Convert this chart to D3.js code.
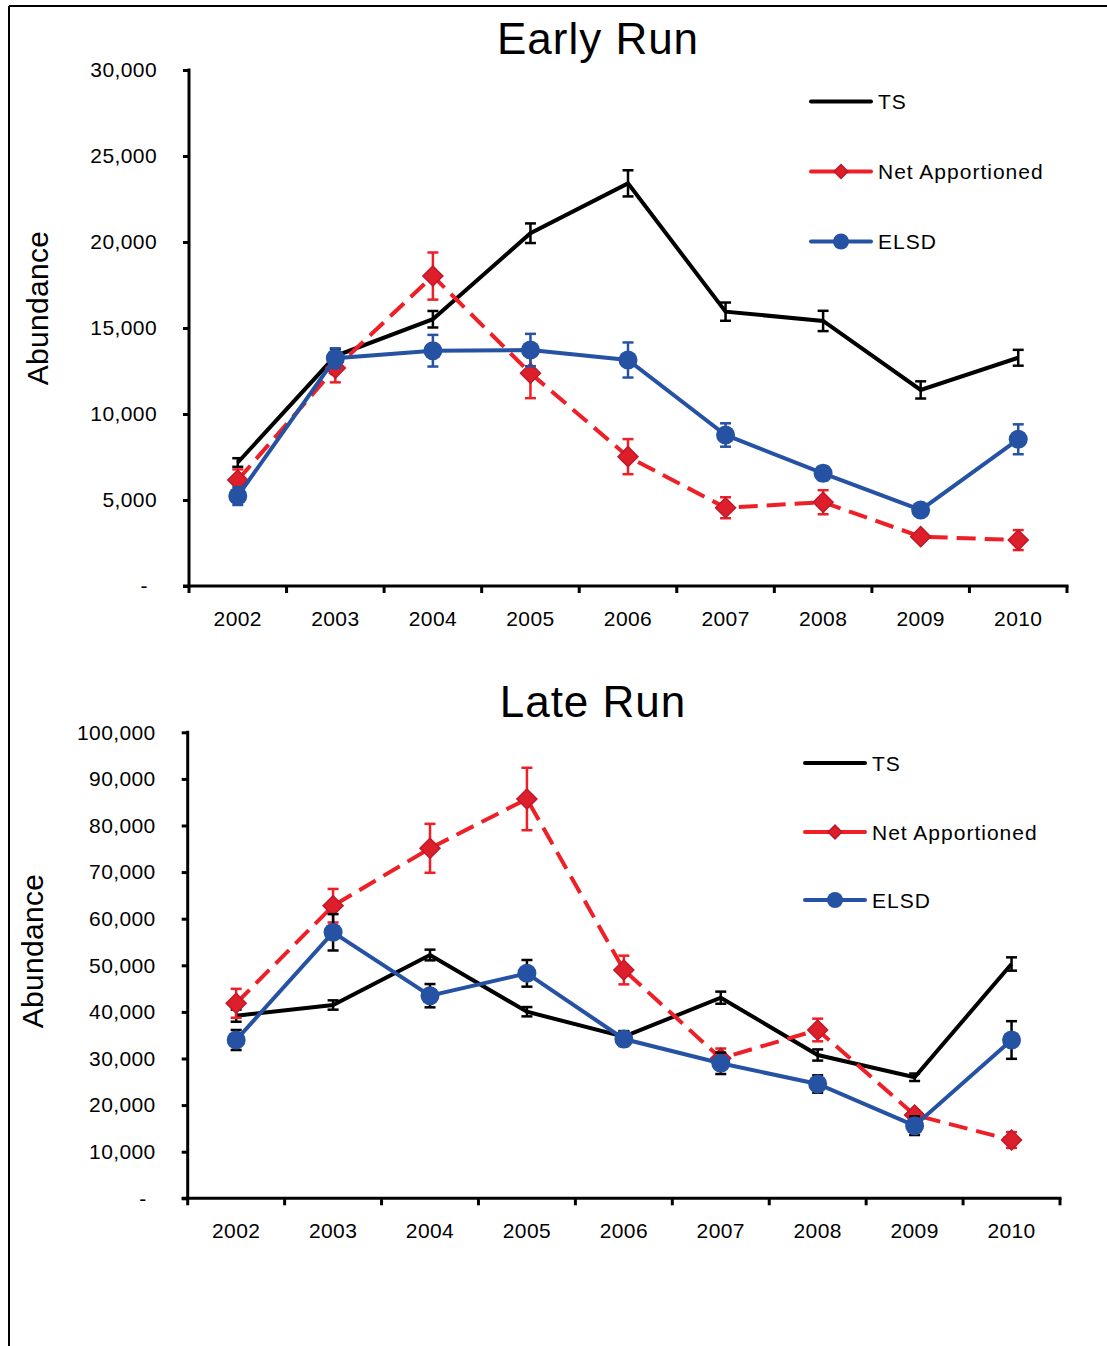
<!DOCTYPE html>
<html>
<head>
<meta charset="utf-8">
<script src="https://cdn.jsdelivr.net/npm/d3@7"></script>
<style>
  html, body { margin: 0; padding: 0; background: #fff; }
  svg { display: block; font-family: "Liberation Sans", Arial, sans-serif; }
</style>
</head>
<body>
<svg id="chart" width="1107" height="1346"></svg>
<script>
// Run years
const years = ["2002", "2003", "2004", "2005", "2006", "2007", "2008", "2009", "2010"];

// Early run abundance estimates and error (+/-)
const earlyTS       = [7180, 13370, 15510, 20510, 23410, 15950, 15410, 11400, 13270];
const earlyTSErr    = [250, 400, 480, 570, 760, 530, 590, 500, 460];
const earlyNet      = [6160, 12670, 18020, 12370, 7520, 4550, 4870, 2870, 2670];
const earlyNetErr   = [620, 830, 1370, 1450, 1020, 610, 700, 200, 580];
const earlyELSD     = [5230, 13240, 13680, 13720, 13140, 8780, 6550, 4420, 8530];
const earlyELSDErr  = [520, 580, 920, 940, 1020, 680, 400, 250, 870];
const earlyTicks    = [0, 5000, 10000, 15000, 20000, 25000, 30000];

// Late run abundance estimates and error (+/-)
const lateTS        = [39190, 41480, 52210, 40040, 34680, 43050, 30750, 25970, 50280];
const lateTSErr     = [1300, 1000, 1150, 1000, 1200, 1300, 1200, 800, 1430];
const lateNet       = [41850, 62790, 75110, 85690, 48990, 30040, 36120, 17880, 12510];
const lateNetErr    = [3100, 3600, 5250, 6700, 3080, 2100, 2430, 1000, 1700];
const lateELSD      = [33970, 57080, 43480, 48280, 34180, 28970, 24530, 15580, 33970];
const lateELSDErr   = [2150, 3900, 2500, 2860, 1500, 2300, 1860, 2000, 4040];
const lateTicks     = [0, 10000, 20000, 30000, 40000, 50000, 60000, 70000, 80000, 90000, 100000];

const seriesNames = ["TS", "Net Apportioned", "ELSD"];

const BLACK = "#000000";
const RED = "#ee1f26";
const RED_MARK = "#dd1f2b";
const RED_EDGE = "#c0182a";
const BLUE = "#2652a4";

const svg = d3.select("#chart");

// outer frame (left and top edges)
svg.append("line").attr("x1", 9).attr("x2", 9).attr("y1", 6).attr("y2", 1346)
  .attr("stroke", "#000").attr("stroke-width", 2);
svg.append("line").attr("x1", 9).attr("x2", 1107).attr("y1", 6).attr("y2", 6)
  .attr("stroke", "#000").attr("stroke-width", 2);

const fmt = d3.format(",");

function drawPanel(p) {
  const g = svg.append("g");
  const x = d3.scaleBand().domain(years).range([p.left, p.right]);
  const y = d3.scaleLinear().domain([0, p.ticks[p.ticks.length - 1]]).range([p.bottom, p.top]);
  const cx = d => x(d) + x.bandwidth() / 2;

  // title
  g.append("text").attr("x", p.titleX).attr("y", p.titleY)
    .attr("text-anchor", "middle").attr("font-size", 44).attr("letter-spacing", 1)
    .attr("fill", "#000").text(p.title);

  // y axis title
  g.append("text")
    .attr("transform", `translate(${p.yTitleX},${p.yTitleY}) rotate(-90)`)
    .attr("text-anchor", "middle").attr("font-size", 30).attr("letter-spacing", 0.3)
    .attr("fill", "#000").text("Abundance");

  // y axis
  const yAxis = d3.axisLeft(y).tickValues(p.ticks).tickSize(6).tickPadding(26)
    .tickFormat(d => d === 0 ? "-" : fmt(d));
  const ya = g.append("g").attr("transform", `translate(${p.left},0)`).call(yAxis);
  ya.select(".domain").remove();
  ya.selectAll(".tick line").attr("stroke", "#000").attr("stroke-width", 3);
  ya.selectAll(".tick text").attr("font-size", 21).attr("fill", "#000")
    .attr("font-family", "Liberation Sans, Arial, sans-serif")
    .attr("letter-spacing", 0.4)
    .attr("dx", d => d === 0 ? -9 : 0);
  g.append("line").attr("x1", p.left).attr("x2", p.left)
    .attr("y1", p.top - 1.5).attr("y2", p.bottom + 1.5)
    .attr("stroke", "#000").attr("stroke-width", 3);

  // x axis
  const xAxis = d3.axisBottom(x).tickSize(0).tickPadding(25);
  const xa = g.append("g").attr("transform", `translate(0,${p.bottom})`).call(xAxis);
  xa.select(".domain").remove();
  xa.selectAll(".tick text").attr("font-size", 21).attr("fill", "#000")
    .attr("font-family", "Liberation Sans, Arial, sans-serif")
    .attr("letter-spacing", 0.4);
  g.append("line").attr("x1", p.left - 6).attr("x2", p.right + 1.5)
    .attr("y1", p.bottom).attr("y2", p.bottom)
    .attr("stroke", "#000").attr("stroke-width", 3);
  const bounds = years.map(d => x(d)).concat([p.right]);
  g.selectAll(".xb").data(bounds).enter().append("line")
    .attr("x1", d => d).attr("x2", d => d)
    .attr("y1", p.bottom).attr("y2", p.bottom + 7)
    .attr("stroke", "#000").attr("stroke-width", 3);

  const line = d3.line().x((d, i) => cx(years[i])).y(d => y(d));

  function errorBars(vals, errs, color) {
    const eg = g.append("g").attr("stroke", color).attr("stroke-width", 2.5).attr("fill", "none");
    vals.forEach((v, i) => {
      const xx = cx(years[i]);
      const y1 = y(v - errs[i]), y2 = y(v + errs[i]);
      eg.append("line").attr("x1", xx).attr("x2", xx).attr("y1", y1).attr("y2", y2);
      eg.append("line").attr("x1", xx - 5.5).attr("x2", xx + 5.5).attr("y1", y1).attr("y2", y1);
      eg.append("line").attr("x1", xx - 5.5).attr("x2", xx + 5.5).attr("y1", y2).attr("y2", y2);
    });
  }

  // TS
  g.append("path").datum(p.ts).attr("d", line).attr("fill", "none")
    .attr("stroke", BLACK).attr("stroke-width", 4).attr("stroke-linejoin", "miter");
  errorBars(p.ts, p.tsErr, BLACK);

  // Net Apportioned
  g.append("path").datum(p.net).attr("d", line).attr("fill", "none")
    .attr("stroke", RED).attr("stroke-width", 4).attr("stroke-dasharray", "19,9");
  errorBars(p.net, p.netErr, RED);
  const diamond = d3.symbol().type(d3.symbolSquare).size(200);
  g.selectAll(".dia").data(p.net).enter().append("path")
    .attr("d", diamond)
    .attr("transform", (d, i) => `translate(${cx(years[i])},${y(d)}) rotate(45)`)
    .attr("fill", RED_MARK).attr("stroke", RED_EDGE).attr("stroke-width", 1.5);

  // ELSD
  g.append("path").datum(p.elsd).attr("d", line).attr("fill", "none")
    .attr("stroke", BLUE).attr("stroke-width", 4);
  errorBars(p.elsd, p.elsdErr, p.elsdErrColor);
  g.selectAll(".dot").data(p.elsd).enter().append("circle")
    .attr("cx", (d, i) => cx(years[i])).attr("cy", d => y(d)).attr("r", 9.5)
    .attr("fill", BLUE);

  // legend
  const lg = g.append("g");
  const lx = p.legendX, len = 60;
  const colors = [BLACK, RED, BLUE];
  seriesNames.forEach((name, i) => {
    const ly = p.legendY[i];
    lg.append("line").attr("x1", lx).attr("x2", lx + len).attr("y1", ly).attr("y2", ly)
      .attr("stroke", colors[i]).attr("stroke-width", 4).attr("stroke-linecap", "round");
    if (i === 1) {
      lg.append("path").attr("d", d3.symbol().type(d3.symbolSquare).size(95))
        .attr("transform", `translate(${lx + len / 2},${ly}) rotate(45)`)
        .attr("fill", RED_MARK).attr("stroke", RED_EDGE).attr("stroke-width", 1.5);
    }
    if (i === 2) {
      lg.append("circle").attr("cx", lx + len / 2).attr("cy", ly).attr("r", 8).attr("fill", BLUE);
    }
    lg.append("text").attr("x", lx + len + 7).attr("y", ly).attr("dy", "0.36em")
      .attr("font-size", 21).attr("letter-spacing", 1).attr("fill", "#000").text(name);
  });
}

drawPanel({
  title: "Early Run", titleX: 598, titleY: 54, yTitleX: 48, yTitleY: 308,
  left: 189, right: 1067, top: 70, bottom: 586,
  ticks: earlyTicks,
  ts: earlyTS, tsErr: earlyTSErr,
  net: earlyNet, netErr: earlyNetErr,
  elsd: earlyELSD, elsdErr: earlyELSDErr, elsdErrColor: BLUE,
  legendX: 811, legendY: [101.5, 171.5, 241.5]
});

drawPanel({
  title: "Late Run", titleX: 593, titleY: 717, yTitleX: 43, yTitleY: 951,
  left: 187.7, right: 1060, top: 732.3, bottom: 1198.3,
  ticks: lateTicks,
  ts: lateTS, tsErr: lateTSErr,
  net: lateNet, netErr: lateNetErr,
  elsd: lateELSD, elsdErr: lateELSDErr, elsdErrColor: BLACK,
  legendX: 805, legendY: [763, 832, 900]
});
</script>
</body>
</html>
